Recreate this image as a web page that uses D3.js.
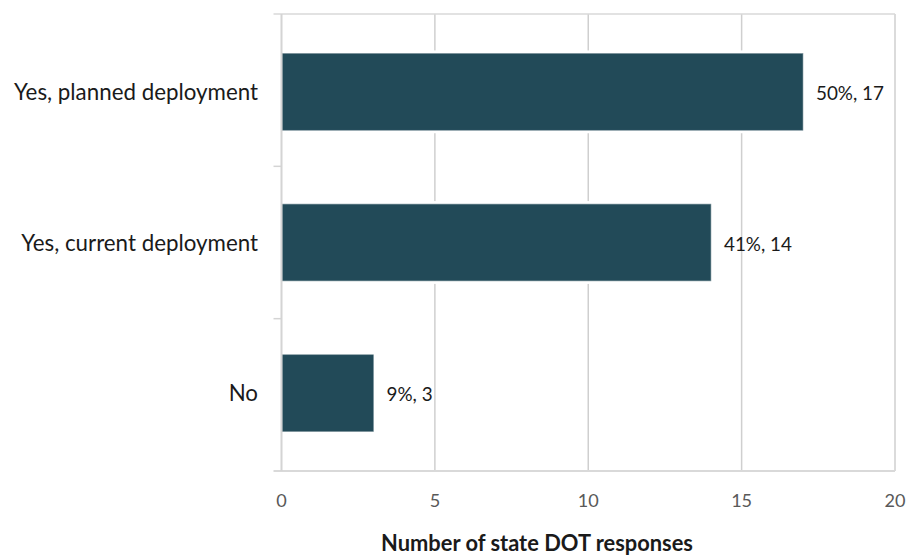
<!DOCTYPE html>
<html><head><meta charset="utf-8">
<script src="https://cdn.jsdelivr.net/npm/d3@7"></script>
<style>body{margin:0;background:#fff}svg{display:block}</style>
</head><body>
<svg id="c" width="906" height="555"></svg>
<script>
const categories = ["Yes, planned deployment", "Yes, current deployment", "No"];
const values = [17, 14, 3];
const percents = ["50%", "41%", "9%"];
const xTicks = [0, 5, 10, 15, 20];
const xTitle = "Number of state DOT responses";

const svg = d3.select("#c");
const font = "Lato, 'Open Sans', sans-serif";
const L = 281.5, R = 895, T = 14, B = 471;
const x = d3.scaleLinear().domain([0, 20]).range([L, R]);
const y = d3.scaleBand().domain(categories).range([T + 2.5, B - 2.5]).paddingInner(0.49).paddingOuter(0.245);
const yb = d3.scaleBand().domain(categories).range([T, B]);

// size a text style so a sample string reaches a target width
function fitSize(sample, target, weight) {
  const t = svg.append("text").attr("font-family", font).attr("font-size", 20)
    .attr("font-weight", weight || "normal").text(sample);
  const w = t.node().getComputedTextLength();
  t.remove();
  return 20 * target / w;
}
const catSize = fitSize(categories[0], 244);
const valSize = fitSize(percents[0] + ", " + values[0], 68);
const tickSize = fitSize("10", 21);
const titleSize = fitSize(xTitle, 312, "bold");

// gridlines
svg.append("g").selectAll("line").data(xTicks.slice(1)).join("line")
  .attr("x1", d => x(d)).attr("x2", d => x(d)).attr("y1", T).attr("y2", B)
  .attr("stroke", "#cfcfcf").attr("stroke-width", 1.5);
// frame top/bottom
svg.append("line").attr("x1", L - 8).attr("x2", R).attr("y1", T).attr("y2", T).attr("stroke", "#d9d9d9").attr("stroke-width", 1.5);
svg.append("line").attr("x1", L - 8).attr("x2", R).attr("y1", B).attr("y2", B).attr("stroke", "#d9d9d9").attr("stroke-width", 2);

// bars with white halo
const bars = svg.append("g");
bars.selectAll("rect.halo").data(categories).join("rect").attr("class", "halo")
  .attr("x", x(0)).attr("y", d => y(d) - 3).attr("width", (d, i) => x(values[i]) - x(0) + 3)
  .attr("height", y.bandwidth() + 6).attr("fill", "#fff");
bars.selectAll("rect.bar").data(categories).join("rect").attr("class", "bar")
  .attr("x", x(0) + 0.5).attr("y", d => y(d)).attr("width", (d, i) => x(values[i]) - x(0) - 0.5)
  .attr("height", y.bandwidth()).attr("fill", "#224A58").attr("stroke", "#7f959d").attr("stroke-width", 0.6);

// left axis
svg.append("line").attr("x1", L).attr("x2", L).attr("y1", T).attr("y2", B).attr("stroke", "#d4d4d4").attr("stroke-width", 2);
svg.append("g").selectAll("line").data(categories.slice(1)).join("line")
  .attr("x1", L - 8).attr("x2", L).attr("y1", d => yb(d)).attr("y2", d => yb(d))
  .attr("stroke", "#d4d4d4").attr("stroke-width", 1.5);

// category labels
svg.append("g").selectAll("text").data(categories).join("text")
  .attr("x", 258).attr("y", d => y(d) + y.bandwidth() / 2 + 0.36 * catSize)
  .attr("text-anchor", "end").attr("font-family", font).attr("font-size", catSize).attr("fill", "#1a1a1a")
  .text(d => d);

// value labels
svg.append("g").selectAll("text").data(categories).join("text")
  .attr("x", (d, i) => x(values[i]) + 13).attr("y", d => y(d) + y.bandwidth() / 2 + 8)
  .attr("font-family", font).attr("font-size", valSize).attr("fill", "#1a1a1a")
  .text((d, i) => percents[i] + ", " + values[i]);

// x tick labels
svg.append("g").selectAll("text").data(xTicks).join("text")
  .attr("x", d => x(d)).attr("y", 507).attr("text-anchor", "middle")
  .attr("font-family", font).attr("font-size", tickSize).attr("fill", "#595959").text(d => d);

// x title
svg.append("text").attr("x", 537).attr("y", 551).attr("text-anchor", "middle")
  .attr("font-family", font).attr("font-size", titleSize).attr("font-weight", "bold").attr("fill", "#1a1a1a").text(xTitle);
</script>
</body></html>
